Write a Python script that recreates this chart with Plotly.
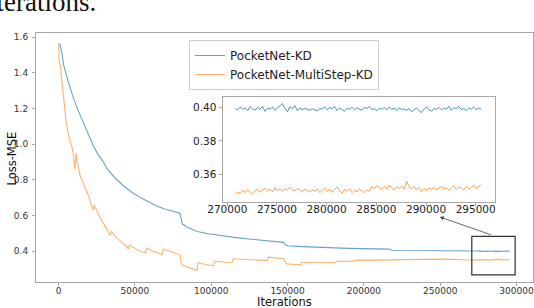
import plotly.graph_objects as go

# ---------------- data ----------------
SERIES_NAMES = ["PocketNet-KD", "PocketNet-MultiStep-KD"]

KD_ITER = [0, 800, 2000, 3300, 6000, 9800, 13000, 16400, 20000, 23000, 26000, 29000,
           31700, 37000, 42600, 48000, 53600, 59000, 64500, 70000, 75000, 79600, 80300,
           81000, 84000, 90800, 98000, 106000, 115000, 127900, 137000, 147400, 148300,
           150000, 160000, 171600, 190000, 216500, 218500, 222000, 252000, 270000]
KD_LOSS = [1.565, 1.56, 1.52, 1.445, 1.36, 1.255, 1.185, 1.12, 1.05, 0.985, 0.94, 0.905,
           0.862, 0.81, 0.765, 0.73, 0.70, 0.675, 0.652, 0.635, 0.624, 0.613, 0.58,
           0.553, 0.535, 0.51, 0.497, 0.486, 0.477, 0.465, 0.459, 0.449, 0.437,
           0.430, 0.425, 0.420, 0.415, 0.411, 0.405, 0.403, 0.401, 0.400]

MS_ITER = [0, 450, 1100, 2230, 3740, 5000, 6560, 8000, 9180, 10760, 11400, 12100, 14230,
           16400, 19700, 22500, 23300, 27350, 30600, 33900, 34500, 38300, 42600, 45900,
           46500, 51400, 56900, 57500, 62300, 67800, 68600, 73300, 79400, 80100, 80900,
           84200, 87500, 90800, 91300, 96000, 101700, 102600, 108000, 113700, 114400,
           125000, 136700, 137400, 147400, 148400, 149300, 158500, 159300, 170000,
           181500, 182300, 193000, 193800, 215000, 250800, 251600, 270000]
MS_LOSS = [1.56, 1.46, 1.442, 1.348, 1.198, 1.12, 1.048, 1.0, 0.971, 0.858, 0.95, 0.905,
           0.82, 0.775, 0.708, 0.63, 0.657, 0.586, 0.535, 0.486, 0.51, 0.473, 0.44, 0.413,
           0.435, 0.407, 0.389, 0.417, 0.398, 0.379, 0.411, 0.398, 0.379, 0.345, 0.323,
           0.31, 0.299, 0.291, 0.336, 0.325, 0.317, 0.344, 0.339, 0.336, 0.357,
           0.351, 0.347, 0.366, 0.357, 0.34, 0.328, 0.323, 0.336, 0.337,
           0.336, 0.342, 0.343, 0.348, 0.351, 0.352, 0.355, 0.350]

# zoomed tail (inset), one value every TAIL_STEP iterations from TAIL_START
TAIL_START = 270800
TAIL_STEP = 250
KD_TAIL = [0.3992, 0.3985, 0.4001, 0.3988, 0.3996, 0.3979, 0.4004, 0.3990, 0.3983, 0.3999,
           0.3987, 0.4006, 0.3976, 0.3995, 0.3989, 0.4002, 0.3981, 0.3998, 0.4008, 0.4022,
           0.3993, 0.3974, 0.4003, 0.3991, 0.4010, 0.3980, 0.3997, 0.3986, 0.3994, 0.3990,
           0.3983, 0.3992, 0.3987, 0.3978, 0.3995, 0.3989, 0.4003, 0.3984, 0.3999, 0.3992,
           0.4005, 0.3981, 0.3996, 0.3987, 0.3976, 0.3994, 0.3988, 0.4001, 0.3985, 0.3997,
           0.3990, 0.3982, 0.3999, 0.3993, 0.4004, 0.3986, 0.3991, 0.3979, 0.3995, 0.3988,
           0.3998, 0.3984, 0.4002, 0.3989, 0.3994, 0.3981, 0.3996, 0.3987, 0.3990, 0.3983,
           0.3992, 0.3973, 0.3986, 0.3995, 0.3980, 0.3969, 0.3988, 0.4003, 0.3985, 0.3977,
           0.3993, 0.3987, 0.4000, 0.3984, 0.3996, 0.3989, 0.4005, 0.3982, 0.3998, 0.3991,
           0.4006, 0.3986, 0.3994, 0.3980, 0.3997, 0.3988, 0.4002, 0.3985, 0.3996, 0.3990]
MS_TAIL = [0.3486, 0.3497, 0.3489, 0.3508, 0.3494, 0.3512, 0.3499, 0.3485, 0.3503, 0.3515,
           0.3496, 0.3509, 0.3520, 0.3502, 0.3514, 0.3498, 0.3523, 0.3506, 0.3517, 0.3501,
           0.3519, 0.3508, 0.3526, 0.3511, 0.3503, 0.3518, 0.3510, 0.3499, 0.3514, 0.3505,
           0.3497, 0.3511, 0.3502, 0.3516, 0.3494, 0.3507, 0.3521, 0.3500, 0.3512, 0.3496,
           0.3509, 0.3527, 0.3504, 0.3489, 0.3513, 0.3501, 0.3517, 0.3493, 0.3508, 0.3498,
           0.3515, 0.3503, 0.3494, 0.3510, 0.3500, 0.3529, 0.3518, 0.3535, 0.3521, 0.3512,
           0.3530, 0.3516, 0.3539, 0.3522, 0.3508, 0.3527, 0.3519, 0.3533, 0.3514, 0.3562,
           0.3526, 0.3517, 0.3531, 0.3510, 0.3524, 0.3500, 0.3518, 0.3507, 0.3522, 0.3513,
           0.3526, 0.3509, 0.3520, 0.3531, 0.3515, 0.3524, 0.3505, 0.3519, 0.3536, 0.3512,
           0.3527, 0.3521, 0.3509, 0.3530, 0.3516, 0.3525, 0.3537, 0.3518, 0.3529, 0.3540]

X_TICKS = [0, 50000, 100000, 150000, 200000, 250000, 300000]
X_TICK_LABELS = ["0", "50000", "100000", "150000", "200000", "250000", "300000"]
Y_TICKS = [0.4, 0.6, 0.8, 1.0, 1.2, 1.4, 1.6]
Y_TICK_LABELS = ["0.4", "0.6", "0.8", "1.0", "1.2", "1.4", "1.6"]
INSET_X_TICKS = [270000, 275000, 280000, 285000, 290000, 295000]
INSET_X_TICK_LABELS = ["270000", "275000", "280000", "285000", "290000", "295000"]
INSET_Y_TICKS = [0.36, 0.38, 0.40]
INSET_Y_TICK_LABELS = ["0.36", "0.38", "0.40"]

# ---------------- figure ----------------
tail_iter = [TAIL_START + i * TAIL_STEP for i in range(len(KD_TAIL))]

W, H = 534, 308
ML, MR, MT, MB = 36, 1, 33, 26
PW, PH = W - ML - MR, H - MT - MB


def px_x(p):
    return (p - ML) / PW


def px_y(p):
    return (H - MB - p) / PH


FONT = "DejaVu Sans"
BLUE_MAIN = "rgba(31,119,180,0.68)"
ORANGE_MAIN = "rgba(255,127,14,0.6)"
BLUE_IN = "rgba(31,119,180,0.8)"
ORANGE_IN = "rgba(255,127,14,0.75)"
SPINE = "#a8a8a8"

fig = go.Figure()
fig.add_trace(go.Scatter(x=KD_ITER + tail_iter, y=KD_LOSS + KD_TAIL, mode="lines",
                         name=SERIES_NAMES[0], line=dict(color=BLUE_MAIN, width=1.1)))
fig.add_trace(go.Scatter(x=MS_ITER + tail_iter, y=MS_LOSS + MS_TAIL, mode="lines",
                         name=SERIES_NAMES[1], line=dict(color=ORANGE_MAIN, width=1.1)))
fig.add_trace(go.Scatter(x=tail_iter, y=KD_TAIL, mode="lines", showlegend=False,
                         line=dict(color=BLUE_IN, width=1.0), xaxis="x2", yaxis="y2"))
fig.add_trace(go.Scatter(x=tail_iter, y=MS_TAIL, mode="lines", showlegend=False,
                         line=dict(color=ORANGE_IN, width=1.0), xaxis="x2", yaxis="y2"))

axis_common = dict(showgrid=False, zeroline=False, showline=True, mirror=True,
                   linecolor=SPINE, linewidth=1, ticks="outside", ticklen=3,
                   tickcolor=SPINE, tickwidth=1)

fig.update_layout(
    width=W, height=H,
    margin=dict(l=ML, r=MR, t=MT, b=MB, pad=0),
    paper_bgcolor="white", plot_bgcolor="white",
    font=dict(family=FONT, color="#222222"),
    xaxis=dict(range=[-14800, 310800], tickvals=X_TICKS, ticktext=X_TICK_LABELS,
               tickfont=dict(size=9, color="#333333"), domain=[0, 1],
               ticklabelstandoff=-3, **axis_common),
    yaxis=dict(range=[0.2265, 1.6235], tickvals=Y_TICKS, ticktext=Y_TICK_LABELS,
               tickfont=dict(size=9, color="#333333"), domain=[0, 1],
               ticklabelstandoff=2, **axis_common),
    xaxis2=dict(range=[269517, 296942], tickvals=INSET_X_TICKS, ticktext=INSET_X_TICK_LABELS,
                tickfont=dict(size=10.5, color="#222222"), anchor="y2",
                domain=[px_x(222.5), px_x(495)], ticklabelstandoff=-5, **axis_common),
    yaxis2=dict(range=[0.3441, 0.4061], tickvals=INSET_Y_TICKS, ticktext=INSET_Y_TICK_LABELS,
                tickfont=dict(size=10.5, color="#222222"), anchor="x2",
                domain=[px_y(201.5), px_y(97)], **axis_common),
    legend=dict(x=px_x(189), y=px_y(40), xanchor="left", yanchor="top",
                bgcolor="white", bordercolor="#cccccc", borderwidth=1,
                font=dict(family=FONT, size=12, color="#222222")),
    showlegend=True,
)

# zoom rectangle + arrow
fig.add_shape(type="rect", xref="x", yref="y", x0=270700, x1=299100, y0=0.2665, y1=0.482,
              line=dict(color="#333333", width=1.2))
fig.add_annotation(xref="x", yref="y", x=249700, y=0.5916, ax=52.7, ay=18.4,
                   text="", showarrow=True, arrowhead=2, arrowsize=1, arrowwidth=0.8,
                   arrowcolor="#444444")

# axis titles
fig.add_annotation(xref="paper", yref="paper", x=px_x(284), y=px_y(301.5), text="Iterations",
                   showarrow=False, font=dict(family=FONT, size=11.5, color="#111111"),
                   xanchor="center", yanchor="middle")
fig.add_annotation(xref="paper", yref="paper", x=px_x(11), y=px_y(158.5), text="Loss-MSE",
                   showarrow=False, textangle=-90,
                   font=dict(family=FONT, size=11.5, color="#111111"),
                   xanchor="center", yanchor="middle")
# cropped caption text from the surrounding page
fig.add_annotation(xref="paper", yref="paper", x=px_x(98), y=px_y(19), text="iterations.",
                   showarrow=False, font=dict(family="Liberation Serif", size=27, color="#111111"),
                   xanchor="right", yanchor="bottom")

fig.write_html("out.html", config={"displayModeBar": False},
               post_script="document.body.style.margin='0';")
